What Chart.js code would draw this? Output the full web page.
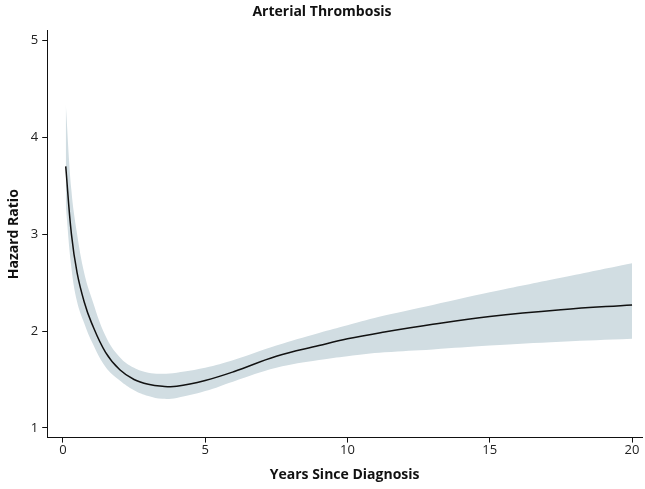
<!DOCTYPE html>
<html>
<head>
  <script src="https://cdn.jsdelivr.net/npm/chart.js"></script>
  <style>
    body { margin: 0; background: #fff; }
    #wrap { width: 645px; height: 489px; }
  </style>
</head>
<body>
  <div id="wrap"><canvas id="c"></canvas></div>
  <script>
    // years since diagnosis
    const years = [0.1, 0.3, 0.5, 0.75, 1, 1.5, 2, 2.5, 3, 3.5, 4, 5, 6, 7.5, 9, 10, 11.3, 13, 15, 17.5, 20];
    const hr    = [3.7, 3.0, 2.6, 2.3, 2.09, 1.78, 1.6, 1.5, 1.45, 1.43, 1.43, 1.49, 1.58, 1.74, 1.85, 1.92, 1.99, 2.07, 2.15, 2.22, 2.27];
    const upper = [4.35, 3.45, 3.0, 2.6, 2.35, 1.95, 1.73, 1.62, 1.57, 1.56, 1.57, 1.62, 1.7, 1.85, 1.98, 2.06, 2.16, 2.27, 2.4, 2.55, 2.7];
    const lower = [3.3, 2.65, 2.3, 2.08, 1.9, 1.63, 1.49, 1.39, 1.33, 1.3, 1.31, 1.38, 1.48, 1.62, 1.7, 1.74, 1.78, 1.81, 1.85, 1.89, 1.92];

    const pts = arr => arr.map((v, i) => ({ x: years[i], y: v }));
    const font = "'Open Sans', sans-serif";

    new Chart(document.getElementById('c'), {
      type: 'line',
      data: {
        datasets: [
          { data: pts(lower), borderWidth: 0, pointRadius: 0, fill: false, tension: 0.4, order: 3 },
          { data: pts(upper), borderWidth: 0, pointRadius: 0, fill: '-1',
            backgroundColor: '#d1dde2', tension: 0.4, order: 2 },
          { data: pts(hr), borderColor: '#111', borderWidth: 1.5, pointRadius: 0, fill: false, tension: 0.4, order: 1 }
        ]
      },
      options: {
        responsive: true,
        maintainAspectRatio: false,
        animation: false,
        layout: { padding: { right: 3, top: 0, bottom: 6, left: 2 } },
        plugins: {
          legend: { display: false },
          tooltip: { enabled: false },
          title: {
            display: true, text: 'Arterial Thrombosis', color: '#111',
            font: { family: font, size: 14, weight: 'bold' }, padding: { top: 4, bottom: 10 }
          }
        },
        scales: {
          x: {
            type: 'linear', min: -0.55, max: 20.35,
            afterBuildTicks: s => { s.ticks = [0, 5, 10, 15, 20].map(v => ({ value: v })); },
            grid: { drawOnChartArea: false, color: '#111', tickLength: 5 },
            border: { color: '#111' },
            ticks: { color: '#222', font: { family: font, size: 13 }, padding: 0 },
            title: { display: true, text: 'Years Since Diagnosis', color: '#111',
              font: { family: font, size: 14, weight: 'bold' }, padding: { top: 8, bottom: 0 } }
          },
          y: {
            min: 0.9, max: 5.1,
            afterBuildTicks: s => { s.ticks = [1, 2, 3, 4, 5].map(v => ({ value: v })); },
            grid: { drawOnChartArea: false, color: '#111', tickLength: 5 },
            border: { color: '#111' },
            ticks: { color: '#222', font: { family: font, size: 13 }, padding: 4 },
            title: { display: true, text: 'Hazard Ratio', color: '#111',
              font: { family: font, size: 14, weight: 'bold' } }
          }
        }
      }
    });
  </script>
</body>
</html>
